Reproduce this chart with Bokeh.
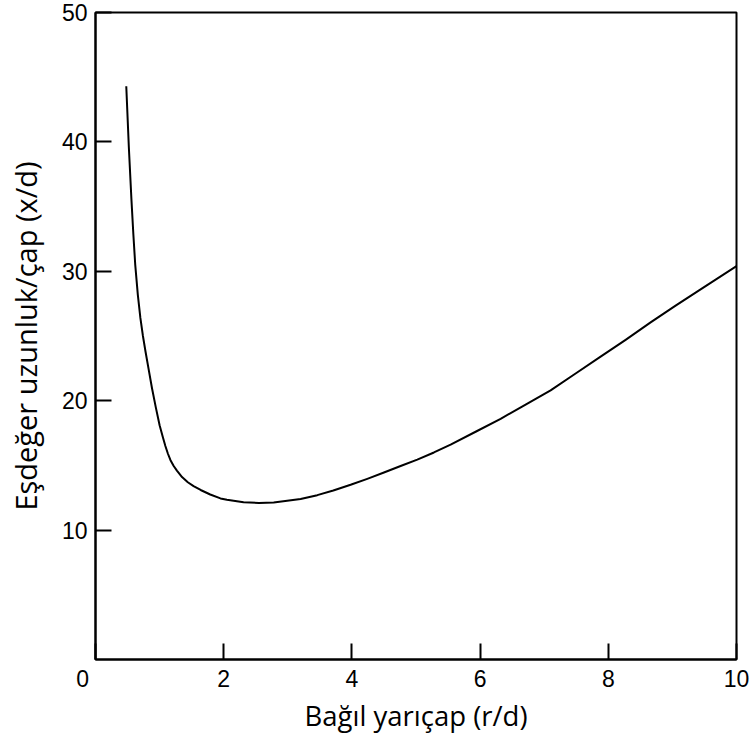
from bokeh.plotting import figure
from bokeh.models import Range1d, FixedTicker
from bokeh.embed import file_html
from bokeh.resources import INLINE

# Data
r_d = [0.48, 0.52, 0.56, 0.59, 0.62, 0.66, 0.70, 0.74, 0.78, 0.83, 0.88, 0.94, 1.0, 1.05,
       1.09, 1.13, 1.17, 1.22, 1.27, 1.35, 1.44, 1.53, 1.64,
       1.79, 1.95, 2.05, 2.31, 2.55, 2.78, 3.2, 3.46, 3.71, 3.98, 4.24, 4.5, 4.76, 5.02,
       5.28, 5.54, 5.93, 6.32, 6.71, 7.1, 7.49, 7.88, 8.27, 8.66, 9.05, 9.44, 10.0]
x_d = [44.3, 39.6, 35.6, 32.9, 30.5, 28.2, 26.4, 25.0, 23.8, 22.4, 21.0, 19.5, 18.1, 17.2,
       16.5, 15.9, 15.4, 14.95, 14.6, 14.1, 13.7, 13.4, 13.1,
       12.75, 12.45, 12.35, 12.15, 12.1, 12.13, 12.4, 12.7, 13.06, 13.5, 13.96, 14.45, 14.95, 15.45,
       16.0, 16.6, 17.6, 18.6, 19.7, 20.8, 22.1, 23.4, 24.7, 26.05, 27.35, 28.6, 30.4]
x_ticks = [0, 2, 4, 6, 8, 10]
y_ticks = [10, 20, 30, 40, 50]

p = figure(width=752, height=738, output_backend="svg", toolbar_location=None,
           x_range=Range1d(0, 10), y_range=Range1d(0, 50),
           min_border_left=95, min_border_right=16, min_border_top=12, min_border_bottom=79)
p.grid.visible = False
p.outline_line_color = "black"
p.outline_line_width = 2
p.background_fill_color = "white"
p.border_fill_color = "white"

p.line(r_d, x_d, line_color="black", line_width=2, line_join="round")

for ax in (p.xaxis[0], p.yaxis[0]):
    ax.axis_line_color = "black"
    ax.axis_line_width = 2
    ax.major_tick_line_color = "black"
    ax.major_tick_line_width = 2
    ax.major_tick_in = 16
    ax.major_tick_out = 0
    ax.minor_tick_line_color = None
    ax.major_label_text_font = "Liberation Sans"
    ax.major_label_text_font_size = "23px"
    ax.major_label_text_color = "black"
    ax.axis_label_text_font = "Open Sans"
    ax.axis_label_text_font_style = "normal"
    ax.axis_label_text_color = "black"

p.xaxis[0].axis_label_text_font_size = "27.5px"
p.yaxis[0].axis_label_text_font_size = "29px"
p.xaxis[0].ticker = FixedTicker(ticks=x_ticks)
p.yaxis[0].ticker = FixedTicker(ticks=y_ticks)
p.xaxis[0].major_label_overrides = {0: "0\u2007\u2007"}
p.xaxis[0].major_label_standoff = 6
p.yaxis[0].major_label_standoff = 8
p.xaxis[0].axis_label = "Bağıl yarıçap (r/d)"
p.yaxis[0].axis_label = "Eşdeğer uzunluk/çap (x/d)"
p.xaxis[0].axis_label_standoff = 2
p.yaxis[0].axis_label_standoff = 14

open("out.html", "w").write(file_html(p, INLINE))
